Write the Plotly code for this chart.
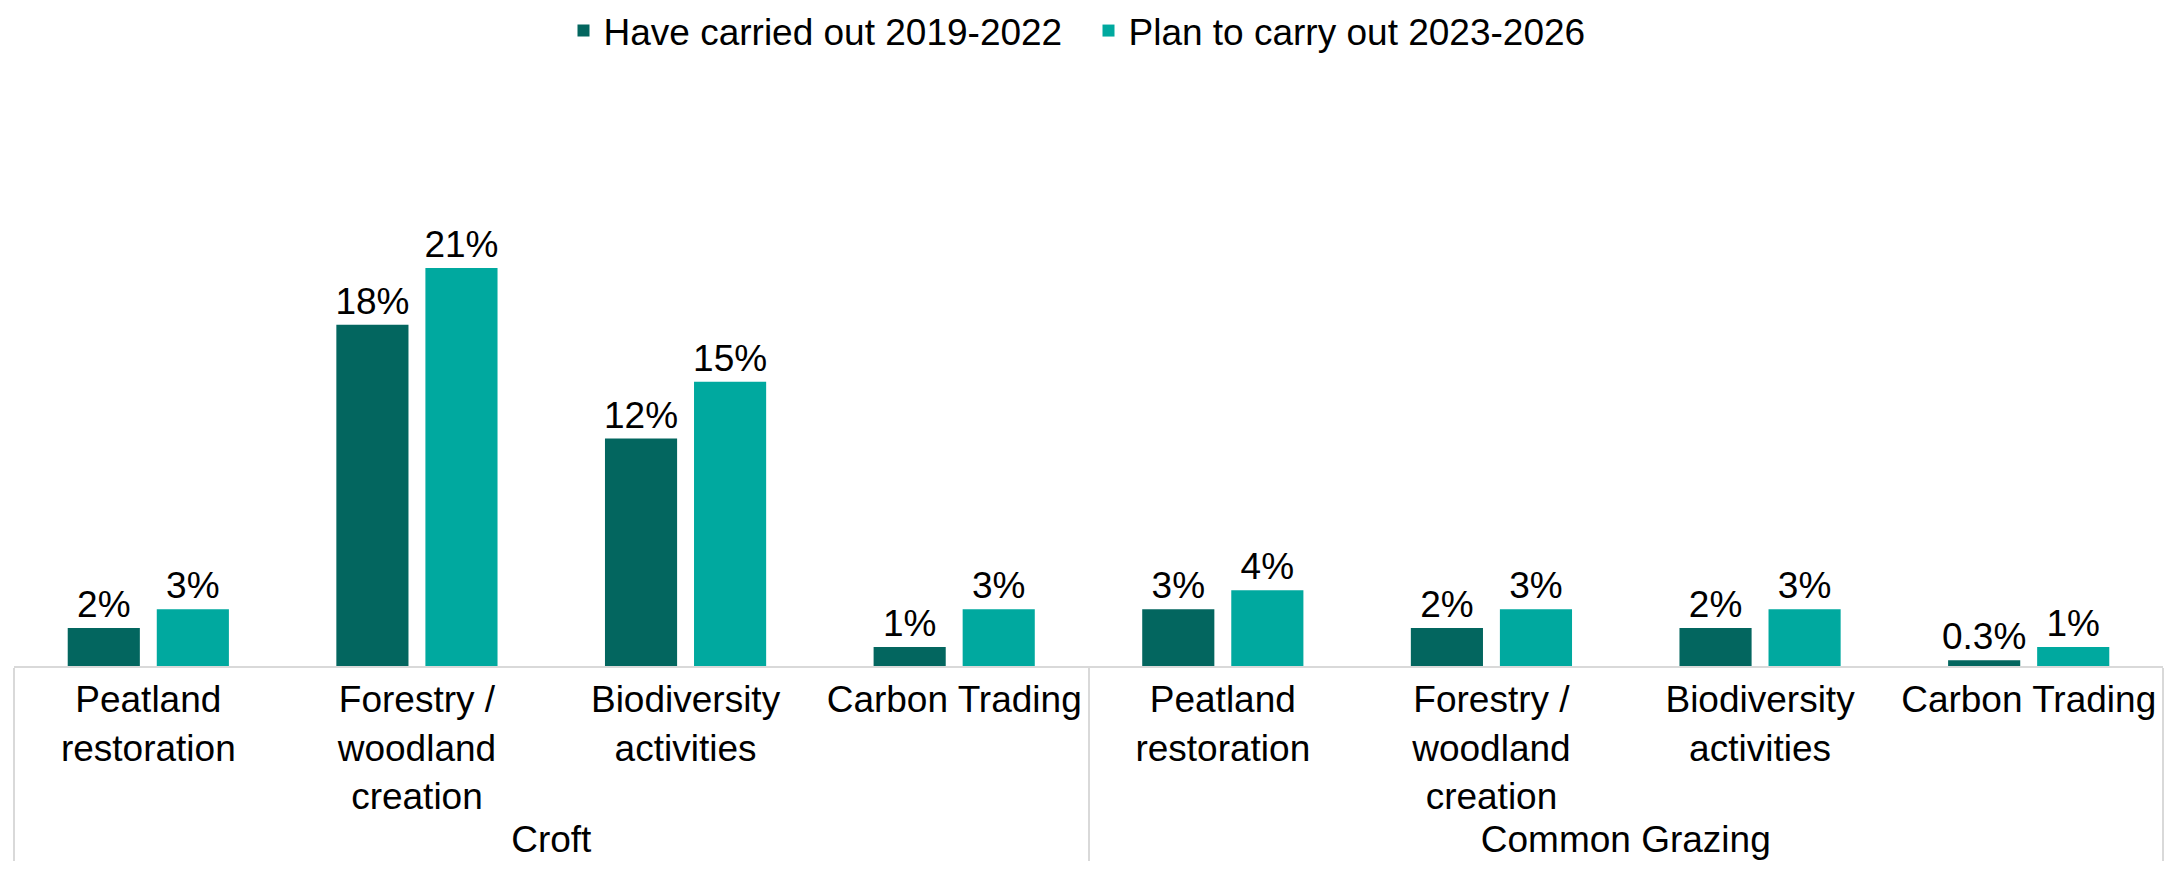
import plotly.graph_objects as go

# Survey groups and activities shown along the x axis
groups = ["Croft"] * 4 + ["Common Grazing"] * 4
activities = [
    "Peatland<br>restoration",
    "Forestry /<br>woodland<br>creation",
    "Biodiversity<br>activities",
    "Carbon Trading",
] * 2

# Share of respondents (%)
carried_out = [2, 18, 12, 1, 3, 2, 2, 0.3]
plan_to = [3, 21, 15, 3, 4, 3, 3, 1]

series_names = ["Have carried out 2019-2022", "Plan to carry out 2023-2026"]
series_colors = ["#03665F", "#00A99F"]

FONT = "Liberation Sans, Arial, sans-serif"

fig = go.Figure()
for name, vals, color in zip(series_names, [carried_out, plan_to], series_colors):
    fig.add_trace(
        go.Bar(
            name=name,
            x=[groups, activities],
            y=vals,
            marker=dict(color=color, line=dict(width=0)),
            text=[f"{v:g}%" for v in vals],
            textposition="outside",
            constraintext="none",
            textfont=dict(size=37, color="#000000", family=FONT),
            cliponaxis=False,
        )
    )

fig.update_layout(
    width=2177,
    height=882,
    margin=dict(l=14, r=14, t=120, b=216),
    paper_bgcolor="white",
    plot_bgcolor="white",
    barmode="group",
    bargap=0.337,
    bargroupgap=0.19,
    font=dict(family=FONT, size=37, color="#000000"),
    legend=dict(
        orientation="h",
        x=0.5,
        xanchor="center",
        yref="container",
        y=1.0,
        yanchor="top",
        font=dict(size=37),
        entrywidth=480,
        entrywidthmode="pixels",
    ),
    showlegend=True,
)

fig.update_xaxes(
    type="multicategory",
    showline=True,
    linecolor="#D9D9D9",
    linewidth=2,
    showdividers=True,
    dividercolor="#D9D9D9",
    dividerwidth=2,
    ticks="",
    tickfont=dict(size=37, family=FONT, color="#000000"),
    showgrid=False,
    zeroline=False,
)
fig.update_yaxes(
    visible=False,
    range=[0, 28.8],
    showgrid=False,
    zeroline=False,
)

fig.write_html("out.html")
